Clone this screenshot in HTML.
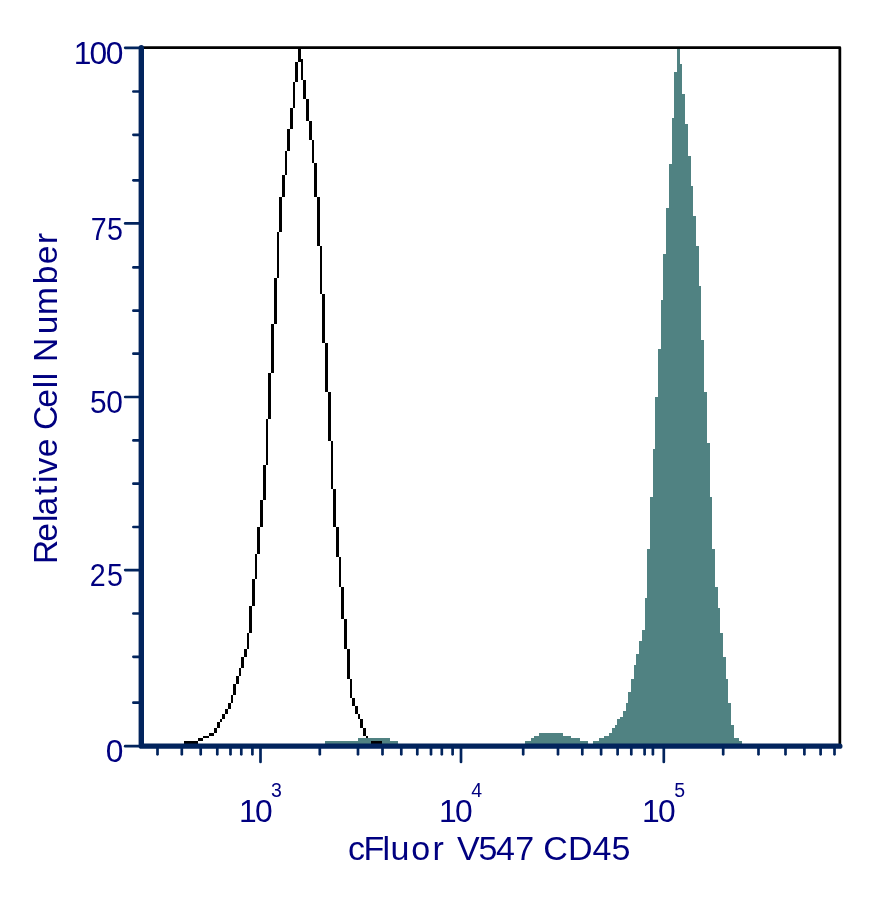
<!DOCTYPE html>
<html lang="en"><head><meta charset="utf-8"><title>cFluor V547 CD45 histogram</title>
<style>html,body{margin:0;padding:0;background:#fff}body{width:889px;height:901px;overflow:hidden}svg{display:block}text{font-family:"Liberation Sans",sans-serif;fill:#000080}</style></head><body>
<svg width="889" height="901" viewBox="0 0 889 901">
<rect width="889" height="901" fill="#fff"/>
<g fill="#508282" shape-rendering="crispEdges">
<path d="M593,744 L593,741.3 L599,741.3 L599,738.3 L604,738.3 L604,736 L609,736 L609,733.2 L612,733.2 L612,728.2 L615,728.2 L615,725 L617.3,725 L617.3,719.3 L620.3,719.3 L620.3,717 L623.2,717 L623.2,711.3 L626.2,711.3 L626.2,703 L628.1,703 L628.1,692.1 L631.2,692.1 L631.2,679.2 L634,679.2 L634,665.1 L636.1,665.1 L636.1,653.9 L639,653.9 L639,641.2 L642,641.2 L642,630 L645,630 L645,598 L647,598 L647,549.1 L650.2,549.1 L650.2,497.1 L653.1,497.1 L653.1,448.9 L655.1,448.9 L655.1,397 L658,397 L658,348.8 L661.2,348.8 L661.2,299.7 L663,299.7 L663,253.8 L666.1,253.8 L666.1,207.9 L668.9,207.9 L668.9,163.8 L672,163.8 L672,117.9 L674.2,117.9 L674.2,72 L677,72 L677,48.5 L679.9,48.5 L679.9,63.9 L681.9,63.9 L681.9,94 L685,94 L685,123.9 L687.8,123.9 L687.8,156.1 L690.9,156.1 L690.9,186 L692.9,186 L692.9,216 L695.9,216 L695.9,246 L698.8,246 L698.8,286 L701,286 L701,340 L703.9,340 L703.9,392 L706.9,392 L706.9,443.1 L709.8,443.1 L709.8,497.1 L712.1,497.1 L712.1,549.1 L715,549.1 L715,587.1 L717.9,587.1 L717.9,608 L719.8,608 L719.8,633 L722.9,633 L722.9,657.1 L725.9,657.1 L725.9,679.2 L727.8,679.2 L727.8,703.1 L730.9,703.1 L730.9,725 L733.9,725 L733.9,738 L738.8,738 L738.8,741 L741.9,741 L741.9,744Z"/>
<rect x="525" y="741" width="63" height="3"/>
<rect x="531" y="738.2" width="49" height="2.8"/>
<rect x="534" y="736" width="37" height="2.2"/>
<rect x="539" y="733" width="24" height="3"/>
<rect x="325" y="741" width="73" height="3"/>
<rect x="358" y="738" width="32" height="3"/>
</g>
<g fill="#000" shape-rendering="crispEdges">
<rect x="184" y="741" width="14" height="3"/>
<rect x="198" y="738" width="5" height="3"/>
<rect x="203" y="736" width="6" height="2"/>
<rect x="209" y="733" width="5" height="3"/>
<rect x="214" y="728" width="3" height="5"/>
<rect x="217" y="722" width="3" height="6"/>
<rect x="220" y="719" width="2" height="3"/>
<rect x="222" y="714" width="3" height="5"/>
<rect x="225" y="709" width="3" height="5"/>
<rect x="228" y="703" width="2.5" height="6"/>
<rect x="230.5" y="695" width="2.5" height="8"/>
<rect x="233" y="684" width="3" height="11"/>
<rect x="236" y="676" width="2.5" height="8"/>
<rect x="238.5" y="668" width="2.5" height="8"/>
<rect x="241" y="657" width="3" height="11"/>
<rect x="244" y="649" width="3" height="8"/>
<rect x="247" y="633" width="2" height="16"/>
<rect x="249" y="606" width="3" height="27"/>
<rect x="252" y="579" width="3" height="27"/>
<rect x="255" y="554" width="2" height="25"/>
<rect x="257" y="527" width="3" height="27"/>
<rect x="260" y="500" width="3" height="27"/>
<rect x="263" y="465" width="3" height="35"/>
<rect x="266" y="419" width="2" height="46"/>
<rect x="268" y="373" width="3" height="46"/>
<rect x="271" y="324" width="3" height="49"/>
<rect x="274" y="278" width="2.5" height="46"/>
<rect x="276.5" y="232" width="2.5" height="46"/>
<rect x="279" y="197" width="3" height="35"/>
<rect x="282" y="175" width="2.5" height="22"/>
<rect x="284.5" y="151" width="2.5" height="24"/>
<rect x="287" y="129" width="3" height="22"/>
<rect x="290" y="107.5" width="3" height="21.5"/>
<rect x="293" y="82" width="2" height="25.5"/>
<rect x="295" y="62" width="3" height="20"/>
<rect x="298" y="48" width="3" height="14"/>
<rect x="301" y="59" width="2" height="21"/>
<rect x="303" y="80" width="3" height="19"/>
<rect x="306" y="99" width="3" height="22"/>
<rect x="309" y="121" width="3" height="19"/>
<rect x="312" y="140" width="2" height="22.5"/>
<rect x="314" y="162.5" width="3" height="34.5"/>
<rect x="317" y="197" width="3" height="48.5"/>
<rect x="320" y="245.5" width="2" height="48.5"/>
<rect x="322" y="294" width="3" height="49"/>
<rect x="325" y="343" width="3" height="49"/>
<rect x="328" y="392" width="3" height="49"/>
<rect x="331" y="441" width="2" height="48"/>
<rect x="333" y="489" width="3" height="38"/>
<rect x="336" y="527" width="3" height="30"/>
<rect x="339" y="557" width="2" height="30"/>
<rect x="341" y="587" width="3" height="32"/>
<rect x="344" y="619" width="3" height="30"/>
<rect x="347" y="649" width="2.5" height="30"/>
<rect x="349.5" y="679" width="2.5" height="19"/>
<rect x="352" y="698" width="3" height="8"/>
<rect x="355" y="706" width="3" height="8"/>
<rect x="358" y="714" width="2" height="5"/>
<rect x="360" y="719" width="3" height="9"/>
<rect x="363" y="728" width="3" height="8"/>
<rect x="366" y="736" width="2" height="2"/>
<rect x="371" y="741" width="11" height="3"/>
</g>
<path d="M141.3,47.7 H839.85 V746" fill="none" stroke="#000" stroke-width="2.75" stroke-linejoin="round"/>
<g stroke="#02245d" stroke-linecap="round" fill="none">
<path d="M141.3,47.8 V746.15 H839.8" stroke-width="5.4" stroke-linejoin="round"/>
<g stroke-width="2.7">
<path d="M125.2,47.8 H139"/>
<path d="M133.4,91.5 H139"/>
<path d="M133.4,134.8 H139"/>
<path d="M133.4,180.3 H139"/>
<path d="M125.2,223.4 H139"/>
<path d="M133.4,267.4 H139"/>
<path d="M133.4,310.7 H139"/>
<path d="M133.4,353.7 H139"/>
<path d="M125.2,397 H139"/>
<path d="M133.4,440.4 H139"/>
<path d="M133.4,483.7 H139"/>
<path d="M133.4,527 H139"/>
<path d="M125.2,570.1 H139"/>
<path d="M133.4,613.5 H139"/>
<path d="M133.4,656.8 H139"/>
<path d="M133.4,702.7 H139"/>
<path d="M125.2,746.15 H139"/>
<path d="M157.5,748 V754.3"/>
<path d="M181.8,748 V754.3"/>
<path d="M200.7,748 V754.3"/>
<path d="M217.3,748 V754.3"/>
<path d="M230.5,748 V754.3"/>
<path d="M241.3,748 V754.3"/>
<path d="M252.4,748 V754.3"/>
<path d="M319.8,748 V754.3"/>
<path d="M358,748 V754.3"/>
<path d="M382.5,748 V754.3"/>
<path d="M401.3,748 V754.3"/>
<path d="M417.3,748 V754.3"/>
<path d="M431,748 V754.3"/>
<path d="M441.8,748 V754.3"/>
<path d="M452.6,748 V754.3"/>
<path d="M523.2,748 V754.3"/>
<path d="M558,748 V754.3"/>
<path d="M582.3,748 V754.3"/>
<path d="M601.1,748 V754.3"/>
<path d="M617.6,748 V754.3"/>
<path d="M631.3,748 V754.3"/>
<path d="M644.6,748 V754.3"/>
<path d="M652.9,748 V754.3"/>
<path d="M723.2,748 V754.3"/>
<path d="M758.5,748 V754.3"/>
<path d="M785.5,748 V754.3"/>
<path d="M804.4,748 V754.3"/>
<path d="M820.6,748 V754.3"/>
<path d="M834.5,748 V754.3"/>
<path d="M260.5,748 V762"/>
<path d="M461,748 V762"/>
<path d="M663.8,748 V762"/>
</g></g>
<text x="73.8 89.6 105.8" y="63.9" font-size="31.8">100</text>
<text transform="translate(90.73,239.7) scale(0.9,1)" x="0.00 18.05" y="0" font-size="31.8">75</text>
<text transform="translate(89.94,413) scale(0.94,1)" x="0.00 17.44" y="0" font-size="31.8">50</text>
<text transform="translate(89.82,585.9) scale(0.9,1)" x="0.00 19.06" y="0" font-size="31.8">25</text>
<text x="105.8" y="762" font-size="31.8">0</text>
<text x="239 254.9" y="821.9" font-size="31.8">10</text>
<text x="270.9" y="796.7" font-size="19.5">3</text>
<text x="439 454.9" y="821.9" font-size="31.8">10</text>
<text x="471.15" y="796.7" font-size="19.5">4</text>
<text x="642.1 658" y="821.9" font-size="31.8">10</text>
<text x="674.2" y="796.7" font-size="19.5">5</text>
<text y="859.6" font-size="34" x="348.1 363.4 382.6 390.4 411.3 432.5 444.5 456.9 478.5 496.1 515.3 527.3 543.3 567.9 592.6 611.4">cFluor V547 CD45</text>
<text transform="translate(57.2,0) rotate(-90)" y="0" font-size="33.5" x="-563.9 -541.8 -521.9 -515.4 -494.9 -483.1 -474.5 -457.2 -445.2 -430.1 -407.7 -388.2 -380.2 -368.2 -362.1 -334.3 -315.0 -284.3 -264.2 -243.9">Relative Cell Number</text>
</svg></body></html>
